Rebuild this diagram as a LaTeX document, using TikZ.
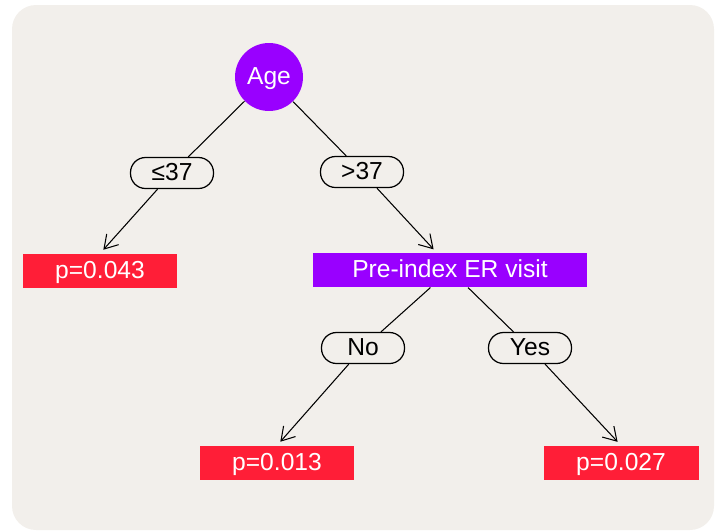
\documentclass[tikz,border=0pt]{standalone}
\usepackage{fontspec}
\setmainfont{Liberation Sans}
\usetikzlibrary{positioning,arrows.meta}
\definecolor{panel}{RGB}{242,239,235}
\definecolor{splitpurple}{RGB}{153,0,255}
\definecolor{leafred}{RGB}{255,30,55}
\tikzset{
  splitc/.style={circle,fill=splitpurple,text=white,minimum size=1.36cm,inner sep=0pt,text height=0.9em,text depth=0pt},
  splitr/.style={fill=splitpurple,text=white,minimum width=5.48cm,minimum height=0.68cm,inner sep=0pt,text height=0.9em,text depth=0pt},
  leaf/.style={fill=leafred,text=white,minimum width=3.1cm,minimum height=0.68cm,inner sep=0pt,text height=0.9em,text depth=0pt},
  cut/.style={draw,line width=0.7pt,rounded corners=0.3cm,fill=panel,minimum width=1.66cm,minimum height=0.62cm,inner sep=0pt,text height=0.9em,text depth=0pt},
}
\begin{document}
\begin{tikzpicture}[x=0.02cm,y=-0.02cm,>={Straight Barb[length=2.6mm,width=3.2mm]},font=\fontsize{14}{16}\selectfont,line width=0.6pt]
  \useasboundingbox (0,0) rectangle (715,531);
  \fill[panel,rounded corners=0.48cm] (12,5) rectangle (714,530);
  % splits
  \node[splitc] (age) at (269,77) {Age};
  \node[splitr] (er) at (450,270) {Pre-index ER visit};
  \coordinate (ertop) at (437,253);
  % edge labels
  \node[cut] (le) at (172,173) {≤37};
  \node[cut] (gt) at (362,172) {>37};
  \node[cut] (no) at (363,348) {No};
  \node[cut] (yes) at (530,348) {Yes};
  % leaves
  \node[leaf] (l1) at (100,271) {p=0.043};
  \node[leaf] (l2) at (277,463) {p=0.013};
  \node[leaf] (l3) at (621,463) {p=0.027};
  \draw (age) -- (le); \draw[->,shorten >=0.1cm] (le) -- (l1.north);
  \draw (age) -- (gt); \draw[->,shorten >=0.1cm] (gt) -- (ertop);
  \draw (er) -- (no); \draw[->,shorten >=0.1cm] (no) -- (l2.north);
  \draw (er) -- (yes); \draw[->,shorten >=0.1cm] (yes) -- (l3.north);
\end{tikzpicture}
\end{document}
